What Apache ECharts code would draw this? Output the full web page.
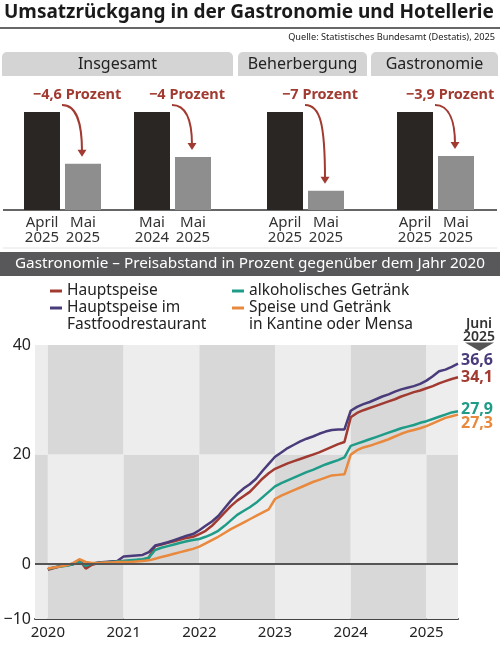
<!DOCTYPE html>
<html>
<head>
<meta charset="utf-8">
<script src="https://cdn.jsdelivr.net/npm/echarts@6/dist/echarts.min.js"></script>
<style>
  html, body { margin: 0; padding: 0; background: #fff; }
  #main { width: 500px; height: 647px; }
</style>
</head>
<body>
<div id="main"></div>
<script>
const FONT = 'Noto Sans';

// Oben: Umsatz, je Gruppe zwei Balken (erster Balken = 100)
const tabNames = ['Insgesamt', 'Beherbergung', 'Gastronomie'];
const pairCats = [
  ['April\n2025', 'Mai\n2025'],
  ['Mai\n2024', 'Mai\n2025'],
  ['April\n2025', 'Mai\n2025'],
  ['April\n2025', 'Mai\n2025']
];
const pairChange = [-4.6, -4, -7, -3.9];
const pairBefore = [100, 100, 100, 100];
const pairAfter = [95.4, 96, 93, 96.1];

// Unten: Preisabstand gegenueber 2020 in Prozent, monatlich Jan 2020 - Jun 2025
const years = [2020, 2021, 2022, 2023, 2024, 2025];
const hauptspeise = [
  -1.0, -0.7, -0.4, -0.2, 0.1, 0.8, -0.8, -0.1, 0.2, 0.3, 0.4, 0.5,
  0.6, 0.6, 0.7, 0.8, 1.2, 3.3, 3.6, 3.9, 4.2, 4.5, 4.8, 5.0,
  5.5, 6.1, 7.0, 8.2, 9.4, 10.6, 11.6, 12.4, 13.2, 14.4, 15.6, 16.6,
  17.4, 17.9, 18.4, 18.8, 19.2, 19.6, 20.0, 20.4, 20.9, 21.4, 21.9, 22.3,
  26.8, 27.6, 28.1, 28.5, 28.9, 29.3, 29.7, 30.1, 30.6, 31.0, 31.4, 31.7,
  32.1, 32.5, 33.0, 33.4, 33.8, 34.1
];
const fastfood = [
  -0.9, -0.6, -0.3, -0.2, 0.0, 0.6, -0.3, 0.1, 0.3, 0.4, 0.5, 0.6,
  1.4, 1.5, 1.6, 1.7, 2.2, 3.4, 3.7, 4.0, 4.4, 4.8, 5.2, 5.5,
  6.2, 7.0, 7.8, 8.8, 10.2, 11.6, 12.8, 13.8, 14.6, 15.6, 17.0, 18.3,
  19.6, 20.4, 21.2, 21.8, 22.4, 22.9, 23.3, 23.8, 24.2, 24.5, 24.6, 24.6,
  28.0, 28.7, 29.2, 29.6, 30.1, 30.6, 31.0, 31.5, 31.9, 32.2, 32.5, 32.9,
  33.5, 34.3, 35.2, 35.5, 36.0, 36.6
];
const alkohol = [
  -0.9, -0.6, -0.4, -0.3, 0.0, 0.4, -0.3, 0.1, 0.2, 0.3, 0.4, 0.5,
  0.6, 0.7, 0.8, 0.9, 1.2, 2.6, 3.0, 3.3, 3.6, 3.9, 4.2, 4.4,
  4.6, 5.0, 5.5, 6.1, 7.0, 8.0, 9.0, 9.7, 10.4, 11.2, 12.2, 13.2,
  14.2, 14.8, 15.3, 15.8, 16.3, 16.8, 17.2, 17.7, 18.2, 18.6, 19.0, 19.5,
  21.6, 22.0, 22.4, 22.8, 23.2, 23.6, 24.0, 24.4, 24.8, 25.1, 25.4, 25.8,
  26.1, 26.5, 26.9, 27.3, 27.7, 27.9
];
const kantine = [
  -0.8, -0.6, -0.4, -0.2, 0.2, 0.9, 0.4, 0.2, 0.2, 0.3, 0.3, 0.4,
  0.4, 0.4, 0.5, 0.6, 0.7, 1.0, 1.3, 1.6, 1.9, 2.2, 2.5, 2.8,
  3.2, 3.8, 4.4, 5.0, 5.7, 6.4, 7.0, 7.6, 8.2, 8.8, 9.4, 10.0,
  11.9, 12.5, 13.0, 13.5, 14.0, 14.5, 15.0, 15.4, 15.8, 16.2, 16.3, 16.4,
  20.0, 20.8, 21.3, 21.6, 22.0, 22.4, 22.8, 23.3, 23.8, 24.2, 24.5, 24.8,
  25.2, 25.7, 26.2, 26.7, 27.0, 27.3
];
const yTicks = [-10, 0, 20, 40];
const yBands = [-10, 0, 20, 40];

const lineSeries = [
  { name: 'Hauptspeise', values: hauptspeise, color: '#a13a31', dy: 0 },
  { name: 'Hauptspeise im\nFastfoodrestaurant', values: fastfood, color: '#4a3b7b', dy: -3 },
  { name: 'alkoholisches Getränk', values: alkohol, color: '#1f9c88', dy: -2 },
  { name: 'Speise und Getränk\nin Kantine oder Mensa', values: kantine, color: '#e8893d', dy: 9 }
];

const xMin = 2019.83, xMax = 2025 + 5 / 12;
const LIGHT = '#ededed', DARK = '#d8d8d8';
const RED = '#a13a31';

const chart = echarts.init(document.getElementById('main'));

// Schachbrett-Hintergrund aus Jahresgrenzen und Y-Baendern
const colEdges = [xMin].concat(years).concat([xMax]);
const checker = [];
for (let r = 0; r < yBands.length - 1; r++) {
  for (let c = 0; c < colEdges.length - 1; c++) {
    checker.push([
      { xAxis: colEdges[c], yAxis: yBands[r], itemStyle: { color: (r + c) % 2 === 0 ? LIGHT : DARK } },
      { xAxis: colEdges[c + 1], yAxis: yBands[r + 1] }
    ]);
  }
}

const barLefts = [21.5, 131.5, 264.5, 394.5];
const barGrids = barLefts.map(l => ({ left: l, width: 82, top: 112, height: 98 }));

const grids = barGrids.concat([{ left: 35, right: 42, top: 345, bottom: 28 }]);

const xAxes = pairCats.map((cats, i) => ({
  type: 'category', gridIndex: i, data: cats,
  axisLine: { show: false }, axisTick: { show: false },
  axisLabel: { interval: 0, color: '#333', fontFamily: FONT, fontSize: 15, lineHeight: 15, margin: 5 }
}));
xAxes.push({
  type: 'value', gridIndex: 4, min: xMin, max: xMax,
  axisLine: { onZero: false, lineStyle: { color: '#444', width: 2 } },
  axisTick: { show: false }, splitLine: { show: false },
  axisLabel: { customValues: years, formatter: v => String(Math.round(v)), color: '#222', fontFamily: FONT, fontSize: 15, margin: 6 }
});

const yAxes = pairCats.map((c, i) => ({
  type: 'value', gridIndex: i, min: 91.3, max: 100, show: false
}));
yAxes.push({
  type: 'value', gridIndex: 4, min: -10, max: 40,
  axisLine: { show: false }, axisTick: { show: false }, splitLine: { show: false },
  axisLabel: { customValues: yTicks, formatter: v => String(v).replace('-', '\u2212'), color: '#222', fontFamily: FONT, fontSize: 16, margin: 4 }
});

const series = [];
pairCats.forEach((cats, i) => {
  series.push({
    type: 'bar', xAxisIndex: i, yAxisIndex: i, barWidth: 36, barGap: '0%',
    data: [
      { value: pairBefore[i], itemStyle: { color: '#2a2624' },
        label: { show: true, position: 'top', distance: 10, offset: [35, 0],
          formatter: () => '\u2212' + String(Math.abs(pairChange[i])).replace('.', ',') + ' Prozent',
          color: RED, fontFamily: FONT, fontWeight: 'bold', fontSize: 14.5 } },
      { value: pairAfter[i], itemStyle: { color: '#8e8e8e' } }
    ]
  });
});

series.push({
  type: 'line', name: 'bg', xAxisIndex: 4, yAxisIndex: 4, data: [], z: 0, silent: true,
  markArea: { silent: true, data: checker }
});
series.push({
  type: 'line', name: 'null', xAxisIndex: 4, yAxisIndex: 4, data: [], z: 1, silent: true,
  markLine: { silent: true, symbol: 'none', label: { show: false },
    lineStyle: { color: '#555', width: 2, type: 'solid' }, data: [{ yAxis: 0 }] }
});
lineSeries.forEach(s => {
  series.push({
    type: 'line', name: s.name, xAxisIndex: 4, yAxisIndex: 4, z: 3,
    showSymbol: false, color: s.color,
    lineStyle: { color: s.color, width: 2.5 },
    data: s.values.map((v, k) => [2020 + k / 12, v]),
    endLabel: {
      show: true, distance: 3, offset: [0, s.dy],
      formatter: p => p.value[1].toFixed(1).replace('.', ','),
      color: s.color, fontFamily: FONT, fontWeight: 'bold', fontSize: 16
    }
  });
});

const legendBase = {
  orient: 'vertical', padding: 0, itemWidth: 12, itemHeight: 3, icon: 'rect',
  selectedMode: false,
  formatter: n => n.indexOf('\n') >= 0 ? '\n' + n : n,
  textStyle: { color: '#222', fontFamily: FONT, fontSize: 15.5, lineHeight: 17 }
};
const legends = [
  Object.assign({}, legendBase, { data: [lineSeries[0].name], left: 50, top: 282.5 }),
  Object.assign({}, legendBase, { data: [lineSeries[1].name], left: 50, top: 282.5 }),
  Object.assign({}, legendBase, { data: [lineSeries[2].name], left: 232, top: 282.5 }),
  Object.assign({}, legendBase, { data: [lineSeries[3].name], left: 232, top: 282.5 })
];

chart.setOption({
  animation: false,
  backgroundColor: '#fff',
  title: [
    { text: 'Umsatzrückgang in der Gastronomie und Hotellerie', left: 4, top: 3, padding: 0,
      textStyle: { fontFamily: FONT, fontWeight: 'bold', fontSize: 19, color: '#1a1a1a' } },
    { text: 'Quelle: Statistisches Bundesamt (Destatis), 2025', right: 5, top: 33, padding: 0,
      textStyle: { fontFamily: FONT, fontWeight: 'normal', fontSize: 9.2, color: '#222' } }
  ],
  legend: legends,
  grid: grids,
  xAxis: xAxes,
  yAxis: yAxes,
  series: series
});

// Reiter, Balken-Grundlinie, Band, Juni-Markierung
const tabs = [
  { name: tabNames[0], x: 2, w: 231 },
  { name: tabNames[1], x: 238, w: 129 },
  { name: tabNames[2], x: 371, w: 127 }
];
const graphics = [
  { type: 'line', shape: { x1: 0, y1: 28, x2: 500, y2: 28 }, style: { stroke: '#333', lineWidth: 1.5 } }
];
tabs.forEach(t => {
  graphics.push({ type: 'rect', shape: { x: t.x, y: 52, width: t.w, height: 24, r: [5, 5, 0, 0] }, style: { fill: '#d4d4d4' } });
  graphics.push({ type: 'text', x: t.x + t.w / 2, y: 64, style: { text: t.name, fill: '#222', font: '16px "Noto Sans"', align: 'center', verticalAlign: 'middle' } });
});
graphics.push({ type: 'line', shape: { x1: 3, y1: 210, x2: 497, y2: 210 }, style: { stroke: '#333', lineWidth: 1.5 } });
graphics.push({ type: 'line', shape: { x1: 3, y1: 248, x2: 497, y2: 248 }, style: { stroke: '#e4e4e4', lineWidth: 1 } });
graphics.push({ type: 'rect', shape: { x: 0, y: 252, width: 500, height: 24 }, style: { fill: '#58585a' } });
graphics.push({ type: 'text', x: 250, y: 264, style: { text: 'Gastronomie \u2013 Preisabstand in Prozent gegenüber dem Jahr 2020', fill: '#fff', font: '15.3px "Noto Sans"', align: 'center', verticalAlign: 'middle' } });
graphics.push({ type: 'text', x: 479, y: 330.5, style: { text: 'Juni\n2025', fill: '#333', font: '600 14px "Noto Sans"', lineHeight: 13, align: 'center', verticalAlign: 'middle' } });
graphics.push({ type: 'polygon', shape: { points: [[465, 342.5], [494, 342.5], [479.5, 351]] }, style: { fill: '#555' } });

// Pfeile vom Label zum zweiten Balken
pairCats.forEach((c, i) => {
  const p0 = chart.convertToPixel({ gridIndex: i }, [0, pairBefore[i]]);
  const p1 = chart.convertToPixel({ gridIndex: i }, [1, pairAfter[i]]);
  const sx = p0[0] + 20, sy = p0[1] - 7;
  const ex = p1[0] - 1, ey = p1[1] - 7;
  graphics.push({ type: 'bezierCurve',
    shape: { x1: sx, y1: sy, cpx1: sx + (ex - sx) * 0.75, cpy1: sy, cpx2: ex, cpy2: sy + 18, x2: ex, y2: ey - 5 },
    style: { stroke: RED, lineWidth: 2, fill: null } });
  graphics.push({ type: 'polygon', shape: { points: [[ex - 4.5, ey - 7], [ex + 4.5, ey - 7], [ex, ey]] }, style: { fill: RED } });
});

chart.setOption({ graphic: graphics });
</script>
</body>
</html>
